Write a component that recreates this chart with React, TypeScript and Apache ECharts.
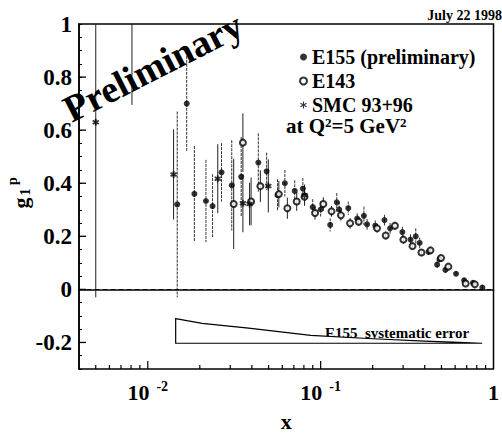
import React, { useEffect, useRef } from "react";
import * as echarts from "echarts";

const FONT = "Liberation Serif, Times New Roman, serif";

const xMin = 0.004;
const xMax = 1;
const yMin = -0.3;
const yMax = 1;

// E155 (preliminary): x, g1p, statistical error
const e155X = [0.0148, 0.0168, 0.0186, 0.0217, 0.0237, 0.0267, 0.0306, 0.0347, 0.0436, 0.0487, 0.0563, 0.0621, 0.0708, 0.0789, 0.09, 0.1, 0.1136, 0.124, 0.128, 0.1445, 0.1627, 0.178, 0.1856, 0.207, 0.234, 0.2523, 0.297, 0.331, 0.355, 0.374, 0.421, 0.472, 0.487, 0.527, 0.607, 0.676, 0.761, 0.862];
const e155Y = [0.32, 0.7, 0.36, 0.333, 0.314, 0.441, 0.392, 0.424, 0.478, 0.445, 0.355, 0.4, 0.371, 0.38, 0.31, 0.301, 0.243, 0.328, 0.301, 0.306, 0.267, 0.277, 0.245, 0.24, 0.261, 0.23, 0.216, 0.1875, 0.2, 0.175, 0.141, 0.093, 0.114, 0.0735, 0.059, 0.034, 0.0245, 0.007];
const e155Err = [0.35, 0.18, 0.18, 0.155, 0.12, 0.11, 0.17, 0.15, 0.11, 0.07, 0.06, 0.05, 0.04, 0.04, 0.03, 0.03, 0.025, 0.035, 0.03, 0.025, 0.02, 0.035, 0.02, 0.02, 0.02, 0.02, 0.02, 0.02, 0.03, 0.02, 0.015, 0.015, 0.015, 0.012, 0.01, 0.01, 0.01, 0.01];

// E143
const e143X = [0.0314, 0.0355, 0.0396, 0.0448, 0.0573, 0.0642, 0.0727, 0.0807, 0.0928, 0.1036, 0.1156, 0.131, 0.148, 0.166, 0.212, 0.238, 0.269, 0.301, 0.34, 0.383, 0.432, 0.497, 0.548, 0.69, 0.78];
const e143Y = [0.322, 0.553, 0.331, 0.389, 0.359, 0.306, 0.331, 0.349, 0.288, 0.322, 0.294, 0.279, 0.249, 0.255, 0.23, 0.203, 0.24, 0.1875, 0.163, 0.139, 0.147, 0.118, 0.0857, 0.022, 0.019];
const e143Err = [0.17, 0.11, 0.09, 0.06, 0.05, 0.04, 0.035, 0.03, 0.025, 0.025, 0.02, 0.02, 0.02, 0.015, 0.015, 0.015, 0.015, 0.015, 0.012, 0.012, 0.012, 0.01, 0.01, 0.008, 0.008];

// SMC 93+96
const smcX = [0.005, 0.0081, 0.0141, 0.0254, 0.0355, 0.0388, 0.0498, 0.0807];
const smcY = [0.63, 1.25, 0.433, 0.417, 0.325, 0.322, 0.39, 0.355];
const smcErr = [0.66, 0.555, 0.17, 0.13, 0.11, 0.08, 0.1, 0.04];

// E155 systematic error band
const sysX = [0.0145, 0.0206, 0.0383, 0.0877, 0.2, 0.4, 0.63, 0.86];
const sysTop = [-0.11, -0.128, -0.146, -0.173, -0.186, -0.195, -0.2, -0.203];
const sysBottom = [-0.203, -0.203, -0.203, -0.203, -0.203, -0.203, -0.203, -0.203];

// axis ticks
const xMinorTicks = [0.005, 0.006, 0.007, 0.008, 0.009, 0.02, 0.03, 0.04, 0.05, 0.06, 0.07, 0.08, 0.09, 0.2, 0.3, 0.4, 0.5, 0.6, 0.7, 0.8, 0.9];
const xMajorTicks = [0.01, 0.1];
const yMajorTicks = [-0.2, 0, 0.2, 0.4, 0.6, 0.8];

function asteriskPath(w: number): string {
  const parts: string[] = [];
  [90, 30, 150].forEach((deg) => {
    const a = (deg * Math.PI) / 180;
    const ux = Math.cos(a), uy = Math.sin(a);
    const px = (-uy * w) / 2, py = (ux * w) / 2;
    const pts = [
      [-ux + px, -uy + py],
      [ux + px, uy + py],
      [ux - px, uy - py],
      [-ux - px, -uy - py],
    ];
    parts.push("M" + pts.map((p) => p[0].toFixed(3) + "," + p[1].toFixed(3)).join("L") + "Z");
  });
  return "path://" + parts.join(" ");
}

function errBars(name: string, xs: number[], ys: number[], es: number[], color: string, dash: number[] | null) {
  return {
    type: "custom",
    name,
    clip: true,
    silent: true,
    z: 2,
    encode: { x: 0, y: 1 },
    data: xs.map((x, i) => [x, ys[i], es[i]]),
    renderItem: (params: any, api: any) => {
      const x = api.value(0);
      const y = api.value(1);
      const e = api.value(2);
      const a = api.coord([x, y + e]);
      const b = api.coord([x, y - e]);
      return {
        type: "line",
        shape: { x1: a[0], y1: a[1], x2: b[0], y2: b[1] },
        style: { stroke: color, lineWidth: 1, lineDash: dash || undefined },
      };
    },
  };
}

export default function App() {
  const ref = useRef<HTMLDivElement>(null);
  useEffect(() => {
    const chart = echarts.init(ref.current!, undefined, { renderer: "svg" });
    const astLegend = asteriskPath(0.3);
    const astPlot = asteriskPath(0.5);
    const tickData = [
      ...xMinorTicks.map((v) => [v, yMin, 0]),
      ...xMajorTicks.map((v) => [v, yMin, 1]),
      ...yMajorTicks.map((v) => [xMin, v, 2]),
    ];
    const option: any = {
      animation: false,
      backgroundColor: "#fff",
      textStyle: { fontFamily: FONT, fontWeight: "bold", color: "#000" },
      grid: {
        left: 79,
        right: 3,
        top: 24,
        bottom: 59,
        show: true,
        borderColor: "#000",
        borderWidth: 1.5,
        backgroundColor: "transparent",
      },
      xAxis: {
        type: "log",
        logBase: 10,
        min: xMin,
        max: xMax,
        name: "x",
        nameLocation: "middle",
        nameGap: 41,
        nameTextStyle: { fontFamily: FONT, fontWeight: "bold", fontSize: 22, color: "#000" },
        axisLine: { show: true, lineStyle: { color: "#000", width: 1.5 } },
        axisTick: { show: false },
        splitLine: { show: false },
        axisLabel: {
          showMinLabel: false,
          margin: 10,
          color: "#000",
          formatter: (v: number) => {
            const p = Math.round(Math.log10(v));
            if (p === 0) return "{b|1}";
            return "{b|10}{s|" + p + "}";
          },
          rich: {
            b: { fontFamily: FONT, fontWeight: "bold", fontSize: 22, color: "#000", lineHeight: 26 },
            s: { fontFamily: FONT, fontWeight: "bold", fontSize: 14, color: "#000", verticalAlign: "top", padding: [0, 0, 0, 7] },
          },
        },
      },
      yAxis: {
        type: "value",
        min: yMin,
        max: yMax,
        interval: 0.05,
        axisLine: { show: true, lineStyle: { color: "#000", width: 1.5 } },
        axisTick: { show: true, inside: true, length: 3, lineStyle: { color: "#000", width: 1 } },
        splitLine: { show: false },
        axisLabel: {
          margin: 7,
          color: "#000",
          fontFamily: FONT,
          fontWeight: "bold",
          fontSize: 23,
          formatter: (v: number) => {
            const r = Math.round(v * 20);
            if (r % 4 !== 0) return "";
            return String(r / 20);
          },
        },
      },
      legend: {
        orient: "vertical",
        left: 299,
        top: 47,
        padding: 0,
        itemWidth: 7,
        itemHeight: 7,
        itemGap: 4,
        selectedMode: false,
        textStyle: { fontFamily: FONT, fontWeight: "bold", fontSize: 20, color: "#000" },
        data: [
          { name: "E155 (preliminary)", icon: "circle" },
          { name: "E143", icon: "emptyCircle" },
          { name: "SMC 93+96", icon: astLegend },
        ],
      },
      graphic: [
        {
          type: "text",
          x: 153,
          y: 67,
          rotation: (27 * Math.PI) / 180,
          z: 10,
          style: {
            text: "Preliminary",
            fontFamily: FONT,
            fontWeight: "bold",
            fontSize: 38,
            fill: "#000",
            align: "center",
            verticalAlign: "middle",
          },
        },
        {
          type: "text",
          x: 286,
          y: 126,
          style: {
            text: "at Q{s|2}=5 GeV{s|2}",
            fontFamily: FONT,
            fontWeight: "bold",
            fontSize: 21,
            lineHeight: 21,
            fill: "#000",
            verticalAlign: "middle",
            rich: {
              s: { fontFamily: FONT, fontWeight: "bold", fontSize: 13, fill: "#000", verticalAlign: "top" },
            },
          },
        },
        {
          type: "text",
          x: 502,
          y: 15,
          style: {
            text: "July 22 1998",
            fontFamily: FONT,
            fontWeight: "bold",
            fontSize: 14,
            fill: "#000",
            align: "right",
            verticalAlign: "middle",
          },
        },
        {
          type: "text",
          x: 397,
          y: 333,
          style: {
            text: "E155  systematic error",
            fontFamily: FONT,
            fontWeight: "bold",
            fontSize: 15,
            fill: "#000",
            align: "center",
            verticalAlign: "middle",
          },
        },
        {
          type: "group",
          x: 20,
          y: 203,
          rotation: Math.PI / 2,
          children: [
            { type: "text", x: 0, y: 0, style: { text: "g", fontFamily: FONT, fontWeight: "bold", fontSize: 22, fill: "#000", align: "center", verticalAlign: "middle" } },
            { type: "text", x: 11, y: 5, style: { text: "1", fontFamily: FONT, fontWeight: "bold", fontSize: 14, fill: "#000", align: "center", verticalAlign: "middle" } },
            { type: "text", x: 22, y: -8, style: { text: "p", fontFamily: FONT, fontWeight: "bold", fontSize: 14, fill: "#000", align: "center", verticalAlign: "middle" } },
          ],
        },
      ],
      series: [
        {
          type: "custom",
          name: "sys",
          silent: true,
          clip: true,
          z: 1,
          encode: { x: 0, y: 1 },
          data: sysX.map((x, i) => [x, sysTop[i], sysBottom[i]]),
          renderItem: (params: any, api: any) => {
            if (params.dataIndex !== 0) return null;
            const top = sysX.map((x, i) => api.coord([x, sysTop[i]]));
            const bot = sysX.map((x, i) => api.coord([x, sysBottom[i]])).reverse();
            return {
              type: "polygon",
              shape: { points: top.concat(bot) },
              style: { fill: "#fff", stroke: "#000", lineWidth: 1.2 },
            };
          },
        },
        {
          type: "custom",
          name: "ticks",
          silent: true,
          clip: false,
          z: 5,
          encode: { x: 0, y: 1 },
          data: tickData,
          renderItem: (params: any, api: any) => {
            const p = api.coord([api.value(0), api.value(1)]);
            const k = api.value(2);
            if (k === 2) {
              return { type: "line", shape: { x1: p[0], y1: p[1], x2: p[0] + 7, y2: p[1] }, style: { stroke: "#000", lineWidth: 1.3 } };
            }
            const len = k === 1 ? 8 : 4;
            return { type: "line", shape: { x1: p[0], y1: p[1], x2: p[0], y2: p[1] - len }, style: { stroke: "#000", lineWidth: 1.2 } };
          },
        },
        errBars("e155err", e155X, e155Y, e155Err, "#333", [3, 1]),
        errBars("e143err", e143X, e143Y, e143Err, "#222", null),
        errBars("smcerr", smcX, smcY, smcErr, "#222", null),
        {
          type: "scatter",
          name: "E155 (preliminary)",
          symbol: "circle",
          symbolSize: 6,
          z: 4,
          itemStyle: { color: "#000" },
          data: e155X.map((x, i) => [x, e155Y[i]]),
          markLine: {
            silent: true,
            symbol: "none",
            label: { show: false },
            lineStyle: { color: "#000", type: [4, 4], width: 1.2 },
            data: [{ yAxis: 0 }],
          },
        },
        {
          type: "scatter",
          name: "E143",
          symbol: "emptyCircle",
          symbolSize: 6,
          z: 4,
          itemStyle: { color: "#000", borderColor: "#000", borderWidth: 1.5 },
          data: e143X.map((x, i) => [x, e143Y[i]]),
        },
        {
          type: "scatter",
          name: "SMC 93+96",
          symbol: astPlot,
          symbolSize: 7,
          z: 4,
          itemStyle: { color: "#000" },
          data: smcX.map((x, i) => [x, smcY[i]]),
        },
      ],
    };
    chart.setOption(option);
    return () => chart.dispose();
  }, []);
  return <div ref={ref} style={{ position: "fixed", left: 0, top: 0, width: 502, height: 437 }} />;
}
